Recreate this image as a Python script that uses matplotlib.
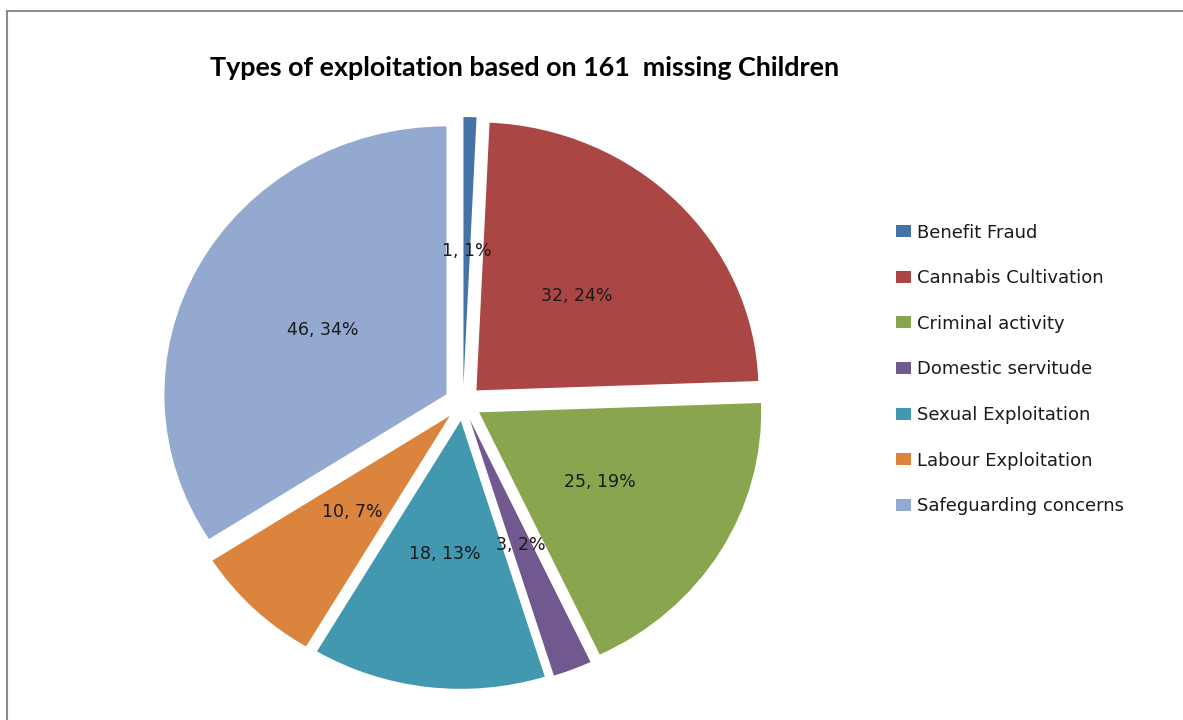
import matplotlib
matplotlib.use("Agg")
import matplotlib.pyplot as plt

categories = ["Benefit Fraud", "Cannabis Cultivation", "Criminal activity",
              "Domestic servitude", "Sexual Exploitation", "Labour Exploitation",
              "Safeguarding concerns"]
counts = [1, 32, 25, 3, 18, 10, 46]
colors = ["#4572A7", "#AA4643", "#89A54E", "#71588F", "#4198AF", "#DB843D", "#93A9CF"]

W, H = 1183, 720
cx, cy = 463, 403      # pie centre in pixels (from top-left)
rx, ry = 282, 268      # pie radius in pixels

fig = plt.figure(figsize=(W / 100, H / 100), dpi=100)
ax = fig.add_axes([0, 0, 1, 1])

total = sum(counts)
labels = [f"{c}, {round(100 * c / total)}%" for c in counts]

wedges, texts = ax.pie(counts, colors=colors, startangle=90, counterclock=False,
                       explode=[0.067] * len(counts), labels=labels,
                       labeldistance=0.5,
                       textprops=dict(fontsize=12.5, family="DejaVu Sans", color="#1a1a1a"))
for t in texts:
    t.set_horizontalalignment("center")
    t.set_verticalalignment("center")

ax.set_aspect("auto")
ax.set_xlim(-cx / rx, (W - cx) / rx)
ax.set_ylim((cy - H) / ry, cy / ry)
ax.axis("off")

fig.text(525 / W, 1 - 68 / H, "Types of exploitation based on 161  missing Children",
         ha="center", va="center", fontsize=19.4, fontweight="bold", family="Lato")

leg = ax.legend(wedges, categories, loc="upper left", frameon=False,
                bbox_to_anchor=(896 / W, 1 - 223.5 / H), bbox_transform=fig.transFigure,
                prop=dict(family="DejaVu Sans", size=13), handlelength=0.83,
                handleheight=0.66, handletextpad=0.35, labelspacing=1.53, borderpad=0,
                borderaxespad=0)
for t in leg.get_texts():
    t.set_color("#1a1a1a")

# chart border (only top and left edges visible)
fig.add_artist(plt.Line2D([7 / W, 7 / W], [0, 1 - 11 / H], color="#8c8c8c", lw=1.5))
fig.add_artist(plt.Line2D([7 / W, 1], [1 - 11 / H, 1 - 11 / H], color="#8c8c8c", lw=1.5))

plt.savefig("out.png", dpi=100)
